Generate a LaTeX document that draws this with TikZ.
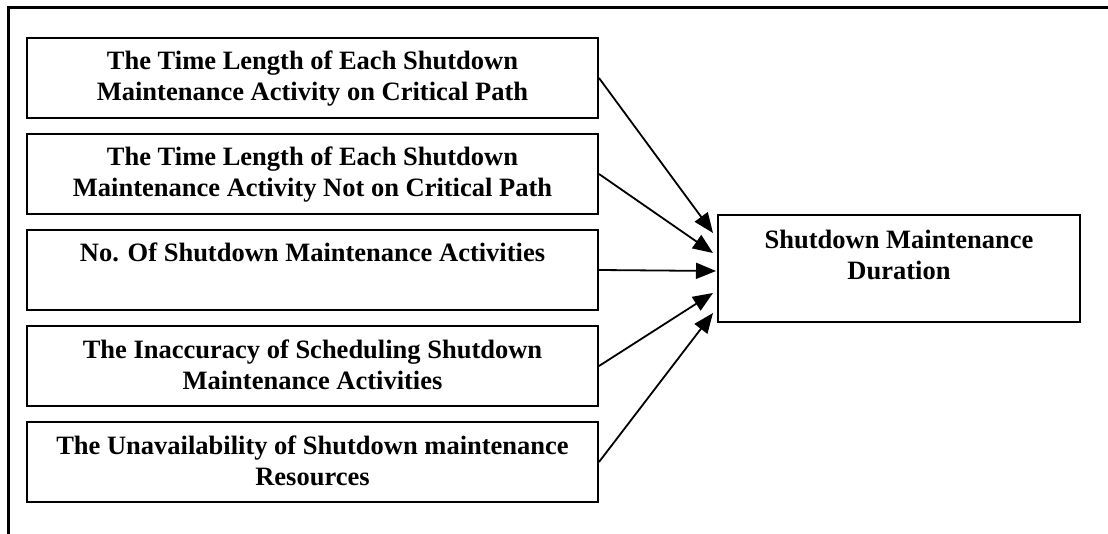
\documentclass[tikz,border=0pt]{standalone}
\usepackage{fontspec}
\setmainfont{Liberation Serif}
\usetikzlibrary{arrows.meta}
\begin{document}
\begin{tikzpicture}[x=1pt,y=-1pt,
  box/.style={draw, line width=2pt, minimum width=571pt, minimum height=80pt, inner sep=0pt},
  txt/.style={font=\fontsize{26.5}{30.5}\selectfont\bfseries, align=center, inner sep=0pt, anchor=north},
  arr/.style={line width=1.8pt, -{Triangle[length=20pt,width=16pt]}}]
\useasboundingbox (0,0) rectangle (1108,534);
\fill[white] (0,0) rectangle (1108,534);
% outer frame
\coordinate (fa) at (8,534);
\coordinate (fb) at (8,8);
\coordinate (fc) at (1108,8);
\draw[line width=3pt] (fa) -- (fb) -- (fc);
% cause boxes
\node[box] (b1) at (312.5,78) {};
\node[box] (b2) at (312.5,174) {};
\node[box] (b3) at (312.5,270) {};
\node[box] (b4) at (312.5,366) {};
\node[box] (b5) at (312.5,462) {};
\node[txt] (l1) at ([yshift=-14pt]b1.north) {The Time Length of Each Shutdown\\Maintenance Activity on Critical Path};
\node[txt] (l2) at ([yshift=-14pt]b2.north) {The Time Length of Each Shutdown\\Maintenance Activity Not on Critical Path};
\node[txt] (l3) at ([yshift=-14pt]b3.north) {No. Of Shutdown Maintenance Activities};
\node[txt] (l4) at ([yshift=-15pt]b4.north) {The Inaccuracy of Scheduling Shutdown\\Maintenance Activities};
\node[txt] (l5) at ([yshift=-15pt]b5.north) {The Unavailability of Shutdown maintenance\\Resources};
% effect box
\node[box, minimum width=362pt, minimum height=107pt] (dur) at (899,268.5) {};
\node[txt] (ld) at ([yshift=-16pt]dur.north) {Shutdown Maintenance\\Duration};
% arrow tips
\coordinate (t1) at (713,233);
\coordinate (t2) at (713,253);
\coordinate (t3) at (716,271);
\coordinate (t4) at (713,293);
\coordinate (t5) at (713,313);
\draw[arr] (b1.east) -- (t1);
\draw[arr] (b2.east) -- (t2);
\draw[arr] (b3.east) -- (t3);
\draw[arr] (b4.east) -- (t4);
\draw[arr] (b5.east) -- (t5);
\end{tikzpicture}
\end{document}
